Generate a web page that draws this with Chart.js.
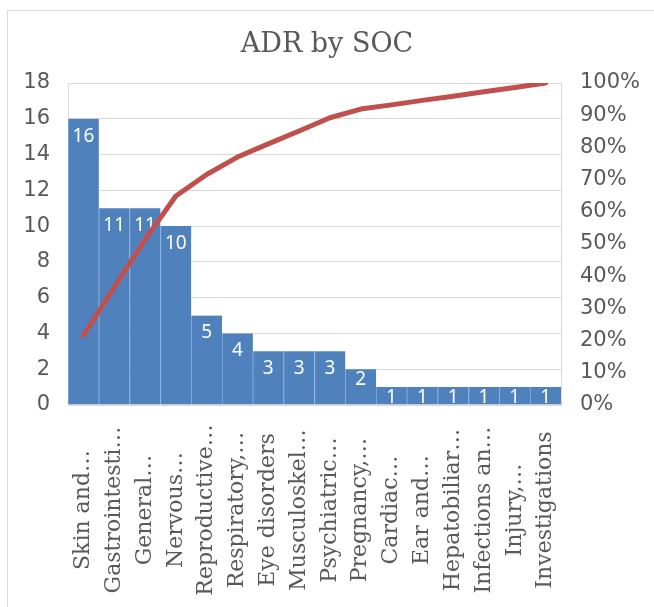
<!DOCTYPE html>
<html>
<head>
<meta charset="utf-8">
<script src="https://cdn.jsdelivr.net/npm/chart.js@4"></script>
<style>
    body { margin: 0; background: #fff; }
    canvas { display: block; }
</style>
</head>
<body>
<canvas id="adrChart" width="654" height="607"></canvas>
<script>
// categories as shown on the axis (Excel cut them short)
const socLabels = [
    "Skin and\u2026", "Gastrointesti\u2026", "General\u2026", "Nervous\u2026",
    "Reproductive\u2026", "Respiratory,\u2026", "Eye disorders", "Musculoskel\u2026",
    "Psychiatric\u2026", "Pregnancy,\u2026", "Cardiac\u2026", "Ear and\u2026",
    "Hepatobiliar\u2026", "Infections an\u2026", "Injury,\u2026", "Investigations"
];
const adrCounts = [16, 11, 11, 10, 5, 4, 3, 3, 3, 2, 1, 1, 1, 1, 1, 1];
// cumulative share
const cumulativeShare = [0.216, 0.365, 0.514, 0.649, 0.716, 0.770, 0.811, 0.851,
                         0.892, 0.919, 0.932, 0.946, 0.959, 0.973, 0.986, 1.0];
const countTicks = [0, 2, 4, 6, 8, 10, 12, 14, 16, 18];
const percentTicks = [0, 0.1, 0.2, 0.3, 0.4, 0.5, 0.6, 0.7, 0.8, 0.9, 1.0];

const gridGray = "#d9d9d9";
const textGray = "#595959";

// light frame around the whole chart
const framePlugin = {
    id: "frame",
    beforeDraw(chart) {
        const c = chart.ctx;
        c.save();
        c.strokeStyle = gridGray;
        c.lineWidth = 1;
        c.beginPath();
        c.moveTo(7.5, chart.height);
        c.lineTo(7.5, 10.5);
        c.lineTo(chart.width, 10.5);
        c.stroke();
        c.restore();
    }
};

// white value labels inside the top of each bar
const barLabelPlugin = {
    id: "barLabels",
    afterDatasetDraw(chart, args) {
        if (args.index !== 0) return;
        const c = chart.ctx;
        const area = chart.chartArea;
        const meta = chart.getDatasetMeta(0);
        c.save();
        c.beginPath();
        c.rect(area.left, area.top, area.right - area.left, area.bottom - area.top);
        c.clip();
        c.fillStyle = "#ffffff";
        c.font = "19px 'Noto Sans'";
        c.textAlign = "center";
        c.textBaseline = "middle";
        meta.data.forEach((bar, i) => {
            const h = bar.base - bar.y;
            const off = h > 45 ? 17.5 : 10;
            c.fillText(String(adrCounts[i]), bar.x, bar.y + off);
        });
        c.restore();
    }
};

// rotated category labels, centred in the band under the axis
const categoryLabelPlugin = {
    id: "catLabels",
    afterDraw(chart) {
        const c = chart.ctx;
        const xScale = chart.scales.x;
        c.save();
        c.fillStyle = textGray;
        c.font = "22px 'DejaVu Serif'";
        c.textAlign = "center";
        c.textBaseline = "middle";
        socLabels.forEach((lbl, i) => {
            c.save();
            c.translate(xScale.getPixelForValue(i), 510);
            c.rotate(-Math.PI / 2);
            c.fillText(lbl, 0, 0);
            c.restore();
        });
        c.restore();
    }
};

const ctx = document.getElementById("adrChart").getContext("2d");
const adrChart = new Chart(ctx, {
    data: {
        labels: socLabels,
        datasets: [
            {
                type: "bar",
                label: "ADR",
                data: adrCounts,
                yAxisID: "y",
                backgroundColor: "#4f81bd",
                borderColor: "#8aaad6",
                borderWidth: { left: 1, right: 0, top: 0, bottom: 0 },
                barPercentage: 1,
                categoryPercentage: 1,
                order: 1
            },
            {
                type: "line",
                label: "Cumulative",
                data: cumulativeShare,
                yAxisID: "y1",
                borderColor: "#c0504d",
                borderWidth: 5,
                borderCapStyle: "round",
                borderJoinStyle: "round",
                pointRadius: 0,
                tension: 0,
                fill: false,
                order: 0
            }
        ]
    },
    options: {
        responsive: false,
        animation: false,
        layout: { padding: 0 },
        plugins: {
            legend: { display: false },
            tooltip: { enabled: false },
            title: {
                display: true,
                text: "ADR by SOC",
                color: textGray,
                font: { family: "'DejaVu Serif'", size: 27, weight: "normal" },
                padding: { top: 29, bottom: 21.6 }
            }
        },
        scales: {
            x: {
                grid: { display: false },
                border: { display: true, color: gridGray },
                ticks: { display: false },
                afterFit(scale) { scale.height = 202; }
            },
            y: {
                position: "left",
                min: 0,
                max: 18,
                afterBuildTicks(scale) { scale.ticks = countTicks.map(v => ({ value: v })); },
                grid: { color: gridGray, drawTicks: false },
                border: { display: true, color: gridGray },
                ticks: {
                    color: textGray,
                    padding: 18,
                    font: { family: "'DejaVu Sans'", size: 21 }
                },
                afterFit(scale) { scale.width = 68; }
            },
            y1: {
                position: "right",
                min: 0,
                max: 1,
                afterBuildTicks(scale) { scale.ticks = percentTicks.map(v => ({ value: v })); },
                grid: { display: false, drawTicks: false },
                border: { display: true, color: gridGray },
                ticks: {
                    color: textGray,
                    padding: 19,
                    font: { family: "'DejaVu Sans'", size: 21 },
                    callback: v => Math.round(v * 100) + "%"
                },
                afterFit(scale) { scale.width = 93; }
            }
        }
    },
    plugins: [framePlugin, barLabelPlugin, categoryLabelPlugin]
});
</script>
</body>
</html>
